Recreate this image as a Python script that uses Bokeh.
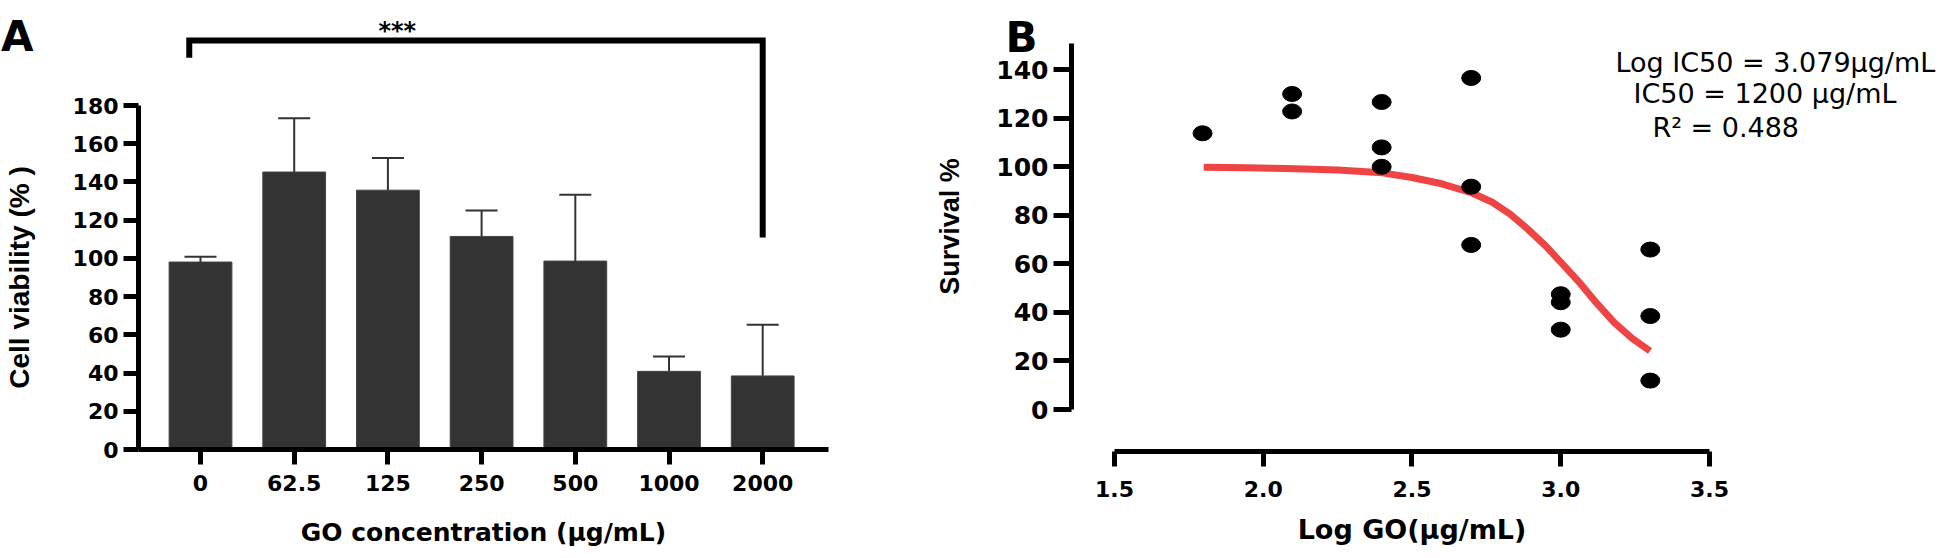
from bokeh.plotting import figure
from bokeh.models import (Range1d, FixedTicker, Whisker, TeeHead, ColumnDataSource,
                          Label, NumeralTickFormatter)
from bokeh.layouts import row
from bokeh.embed import file_html
from bokeh.resources import INLINE

# ---------------- Panel A data ----------------
concentrations = ["0", "62.5", "125", "250", "500", "1000", "2000"]
viability_mean = [98.1, 145.2, 135.7, 111.5, 98.6, 40.9, 38.5]
viability_sd = [2.8, 28.1, 16.8, 13.6, 34.7, 7.8, 26.8]
sig_groups = [0, 6]          # bracket from "0" to "2000"
sig_levels = [205, 214, 214, 111]
sig_label = "***"

# ---------------- Panel B data ----------------
log_go = [1.796, 2.097, 2.097, 2.398, 2.398, 2.398, 2.699, 2.699, 2.699,
          3.0, 3.0, 3.0, 3.301, 3.301, 3.301]
survival = [113.8, 130.0, 122.8, 126.7, 108.0, 100.0, 136.6, 91.8, 67.8,
            47.5, 44.2, 32.9, 65.9, 38.5, 11.9]
fit_log_go = [1.80, 1.94, 2.08, 2.25, 2.40, 2.50, 2.60, 2.70, 2.77, 2.83, 2.89,
              2.95, 3.00, 3.06, 3.12, 3.18, 3.24, 3.30]
fit_survival = [99.8, 99.6, 99.3, 98.7, 97.5, 95.6, 93.0, 89.3, 85.4, 80.5, 74.2,
                67.3, 60.7, 52.7, 43.9, 35.8, 29.3, 24.1]
stats_lines = ["Log IC50 = 3.079\u03bcg/mL", "IC50 = 1200 \u03bcg/mL", "R\u00b2 = 0.488"]

BOLD = "DejaVu Sans"


def style_axis(ax, label_size, tick_out, standoff):
    ax.minor_tick_line_color = None
    ax.major_tick_in = 0
    ax.major_tick_out = tick_out
    ax.major_tick_line_width = 5
    ax.major_tick_line_color = "black"
    ax.axis_line_width = 5
    ax.axis_line_color = "black"
    ax.major_label_text_font = BOLD
    ax.major_label_text_font_style = "bold"
    ax.major_label_text_font_size = label_size
    ax.major_label_text_color = "black"
    ax.major_label_standoff = standoff
    ax.axis_label_text_color = "black"
    ax.axis_label_text_font_style = "bold"


# ================= Panel A =================
idx = list(range(len(concentrations)))
srcA = ColumnDataSource(dict(x=idx, mean=viability_mean,
                             upper=[m + s for m, s in zip(viability_mean, viability_sd)]))

pA = figure(width=900, height=557, output_backend="svg", toolbar_location=None,
            x_range=Range1d(-2.1345, 7.4706), y_range=Range1d(-56.51, 234.96),
            min_border_left=0, min_border_right=0, min_border_top=0, min_border_bottom=0)
pA.outline_line_color = None
pA.grid.visible = False

pA.vbar(x="x", top="mean", bottom=0, width=0.67, source=srcA,
        fill_color="#333333", line_color="#444444", line_width=1)
pA.add_layout(Whisker(source=srcA, base="x", lower="mean", upper="upper",
                      dimension="height", line_color="#333333", line_width=2,
                      upper_head=TeeHead(size=32, line_width=2, line_color="#333333"),
                      lower_head=None))

gL, gR = sig_groups
pA.line(x=[gL - 0.12, gL - 0.12, gR, gR], y=sig_levels, line_width=6,
        line_color="black", line_join="miter")
pA.add_layout(Label(x=2.1, y=219.0, text=sig_label, text_align="center",
                    text_baseline="alphabetic", text_font=BOLD, text_font_style="bold",
                    text_font_size="24px", text_color="black"))
pA.add_layout(Label(x=-2.13, y=216.1, text="A", text_align="left",
                    text_baseline="alphabetic", text_font=BOLD, text_font_style="bold",
                    text_font_size="42px", text_color="black"))

yA = pA.yaxis[0]
yA.fixed_location = -0.6617
yA.ticker = FixedTicker(ticks=list(range(0, 181, 20)))
yA.bounds = (0, 180)
style_axis(yA, "22px", 15, 5)
yA.axis_label = "Cell viability (% )"
yA.axis_label_text_font = "Liberation Sans"
yA.axis_label_text_font_size = "28px"
yA.axis_label_standoff = 35

xA = pA.xaxis[0]
xA.fixed_location = 0
xA.bounds = (-0.6617, 6.70)
xA.ticker = FixedTicker(ticks=idx)
xA.major_label_overrides = {i: c for i, c in enumerate(concentrations)}
style_axis(xA, "22px", 15, 10)
xA.axis_label = "GO concentration (\u00b5g/mL)"
xA.axis_label_text_font = BOLD
xA.axis_label_text_font_size = "25px"
xA.axis_label_standoff = 24

# ================= Panel B =================
pB = figure(width=1044, height=557, output_backend="svg", toolbar_location=None,
            x_range=Range1d(0.7807, 4.2899), y_range=Range1d(-60.98, 168.52),
            min_border_left=0, min_border_right=0, min_border_top=0, min_border_bottom=0)
pB.outline_line_color = None
pB.grid.visible = False

pB.line(fit_log_go, fit_survival, line_width=7, line_color="#EE4444")
pB.ellipse(x=log_go, y=survival, width=19, height=15, width_units="screen",
           height_units="screen", fill_color="black", line_color="black")

pB.add_layout(Label(x=1.1336, y=153.3, text="B", text_align="left",
                    text_baseline="alphabetic", text_font=BOLD, text_font_style="bold",
                    text_font_size="42px", text_color="black"))
for txt, tx, ty in zip(stats_lines, [3.184, 3.2445, 3.308], [143.1, 130.1, 116.3]):
    pB.add_layout(Label(x=tx, y=ty, text=txt, text_align="left",
                        text_baseline="alphabetic", text_font="DejaVu Sans",
                        text_font_size="27px", text_color="black"))

yB = pB.yaxis[0]
yB.fixed_location = 1.3555
yB.ticker = FixedTicker(ticks=list(range(0, 141, 20)))
yB.bounds = (0, 150.8)
style_axis(yB, "25px", 18, 5)
yB.axis_label = "Survival %"
yB.axis_label_text_font = "Liberation Sans"
yB.axis_label_text_font_size = "27px"
yB.axis_label_standoff = 28

xB = pB.xaxis[0]
xB.fixed_location = -17.3
xB.ticker = FixedTicker(ticks=[1.5, 2.0, 2.5, 3.0, 3.5])
xB.formatter = NumeralTickFormatter(format="0.0")
xB.bounds = (1.5, 3.5)
style_axis(xB, "22px", 15, 15)
xB.axis_label = "Log GO(\u03bcg/mL)"
xB.axis_label_text_font = BOLD
xB.axis_label_text_font_size = "27px"
xB.axis_label_standoff = 13

layout = row(pA, pB)
open("out.html", "w").write(file_html(layout, INLINE))
